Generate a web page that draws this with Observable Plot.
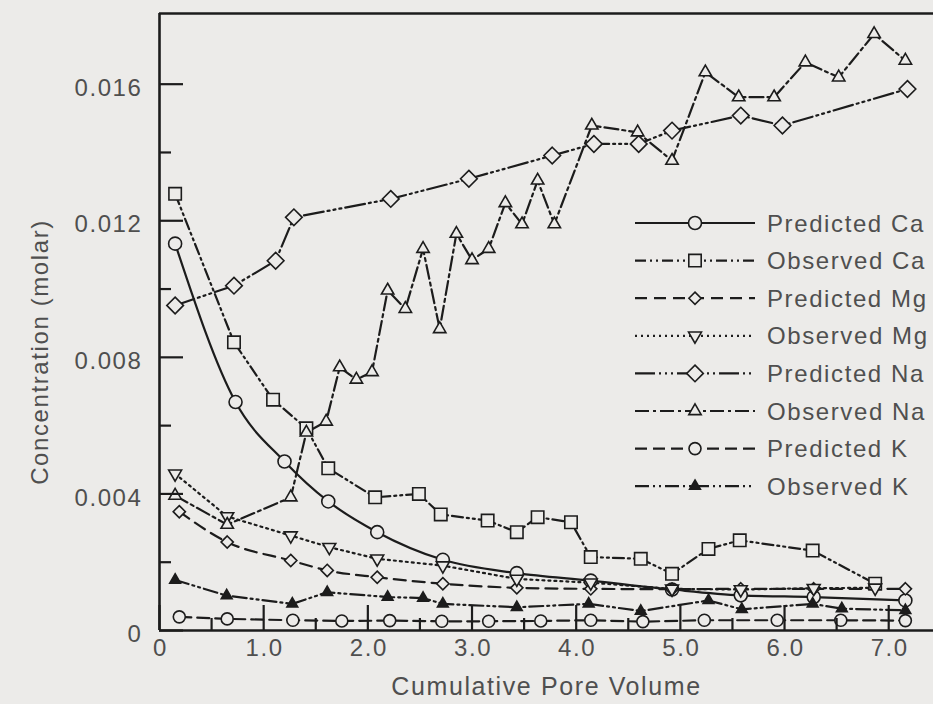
<!DOCTYPE html>
<html><head><meta charset="utf-8">
<script src="https://cdn.jsdelivr.net/npm/d3@7"></script>
<script src="https://cdn.jsdelivr.net/npm/@observablehq/plot@0.6"></script>
<style>
html,body{margin:0;padding:0;background:#ecebe9;}
#chart{position:relative;width:933px;height:704px;overflow:hidden;}
#chart svg{position:absolute;left:0;top:0;}
#chart text{letter-spacing:1.6px;}
</style></head><body><div id="chart"></div>
<script>
// ---- data ----
const predCaX = [0.15, 0.73, 1.20, 1.62, 2.09, 2.72, 3.43, 4.14, 4.92, 5.58, 6.28, 7.16];
const predCaY = [0.01133, 0.00669, 0.00495, 0.00378, 0.00288, 0.00207, 0.00168, 0.00146, 0.00120, 0.00103, 0.00098, 0.00088];

const obsCaX = [0.15, 0.715, 1.09, 1.41, 1.62, 2.07, 2.49, 2.70, 3.15, 3.43, 3.63, 3.95, 4.14, 4.62, 4.92, 5.27, 5.57, 6.27, 6.87];
const obsCaY = [0.01279, 0.00844, 0.00676, 0.00592, 0.00475, 0.00390, 0.00400, 0.00340, 0.00322, 0.00288, 0.00332, 0.00317, 0.00215, 0.00210, 0.00166, 0.00239, 0.00264, 0.00234, 0.00137];

const predMgX = [0.19, 0.65, 1.26, 1.61, 2.09, 2.72, 3.43, 4.14, 4.92, 5.58, 6.28, 7.16];
const predMgY = [0.00348, 0.00259, 0.00205, 0.00176, 0.00156, 0.00137, 0.00125, 0.00122, 0.00121, 0.00122, 0.00122, 0.00122];

const obsMgX = [0.15, 0.65, 1.26, 1.63, 2.09, 2.72, 3.43, 4.14, 4.92, 5.58, 6.28, 6.87];
const obsMgY = [0.00459, 0.00334, 0.00278, 0.00244, 0.00210, 0.00190, 0.00151, 0.00140, 0.00122, 0.00120, 0.00124, 0.00125];

const predNaX = [0.15, 0.715, 1.115, 1.29, 2.22, 2.97, 3.77, 4.17, 4.60, 4.92, 5.58, 5.98, 7.18];
const predNaY = [0.00952, 0.01010, 0.01083, 0.01210, 0.01264, 0.01323, 0.01391, 0.01425, 0.01425, 0.01464, 0.01508, 0.01479, 0.01586];

const obsNaX = [0.15, 0.65, 1.26, 1.41, 1.60, 1.73, 1.89, 2.04, 2.19, 2.36, 2.53, 2.69, 2.85, 3.00, 3.16, 3.32, 3.48, 3.63, 3.79, 4.15, 4.59, 4.92, 5.24, 5.56, 5.90, 6.20, 6.52, 6.86, 7.16];
const obsNaY = [0.00395, 0.00310, 0.00390, 0.00580, 0.00612, 0.00771, 0.00735, 0.00757, 0.00996, 0.00942, 0.01118, 0.00883, 0.01162, 0.01085, 0.01118, 0.01252, 0.01190, 0.01318, 0.01190, 0.01479, 0.01459, 0.01376, 0.01635, 0.01562, 0.01562, 0.01664, 0.01620, 0.01747, 0.01669];

const predKX = [0.19, 0.65, 1.28, 1.75, 2.21, 2.71, 3.16, 3.66, 4.14, 4.64, 5.23, 5.93, 6.54, 7.16];
const predKY = [0.00040, 0.00034, 0.00030, 0.00028, 0.00029, 0.00027, 0.00027, 0.00028, 0.00030, 0.00026, 0.00030, 0.00030, 0.00030, 0.00029];

const obsKX = [0.15, 0.645, 1.275, 1.61, 2.19, 2.53, 2.72, 3.43, 4.12, 4.62, 5.27, 5.59, 6.27, 6.55, 7.16];
const obsKY = [0.00148, 0.00102, 0.00078, 0.00112, 0.00098, 0.00095, 0.00078, 0.00068, 0.00078, 0.00057, 0.00088, 0.00062, 0.00078, 0.00064, 0.00059];

const seriesNames = ["Predicted Ca", "Observed Ca", "Predicted Mg", "Observed Mg", "Predicted Na", "Observed Na", "Predicted K", "Observed K"];

const xMajorTicks = [0, 1, 2, 3, 4, 5, 6, 7];
const xMinorTicks = [0.5, 1.5, 2.5, 3.5, 4.5, 5.5, 6.5];
const xTickLabels = ["0", "1.0", "2.0", "3.0", "4.0", "5.0", "6.0", "7.0"];
const yMajorTicks = [0, 0.004, 0.008, 0.012, 0.016];
const yMinorTicks = [0.002, 0.006, 0.010, 0.014];
const yTickLabels = ["0", "0.004", "0.008", "0.012", "0.016"];
const xTitle = "Cumulative Pore Volume";
const yTitle = "Concentration (molar)";

// ---- styles ----
const INK = "#1c1c1c", TEXT = "#4f4f4f", BG = "#ecebe9";
const FONT = "'Liberation Sans', Arial, sans-serif";
const styles = [
  {symbol: "circle",   r: 6.5, fill: BG,  dash: null,                     curve: "monotone-x", rotate: 0},
  {symbol: "square",   r: 7,   fill: BG,  dash: "11,4,2,4,2,4",           curve: "linear",     rotate: 0},
  {symbol: "diamond2", r: 5.5, fill: BG,  dash: "12,7",                   curve: "monotone-x", rotate: 0},
  {symbol: "triangle", r: 4.8, fill: BG,  dash: "2,4",                    curve: "linear",     rotate: 180},
  {symbol: "diamond2", r: 7.5, fill: BG,  dash: "20,4,2,4,2,4,2,4",       curve: "linear",     rotate: 0},
  {symbol: "triangle", r: 4.6, fill: BG,  dash: "14,4,3,4",               curve: "linear",     rotate: 0},
  {symbol: "circle",   r: 6,   fill: BG,  dash: "12,6",                   curve: "linear",     rotate: 0},
  {symbol: "triangle", r: 4,   fill: INK, dash: "14,4,2,4,2,4",           curve: "linear",     rotate: 0}
];
const seriesXs = [predCaX, obsCaX, predMgX, obsMgX, predNaX, obsNaX, predKX, obsKX];
const seriesYs = [predCaY, obsCaY, predMgY, obsMgY, predNaY, obsNaY, predKY, obsKY];

const W = 933, H = 704;
const mL = 159, mR = 0, mT = 13, mB = 74;
const xMax = 7.43, yMax = 0.01807;
const plotW = W - mL - mR, plotH = H - mT - mB;

const lineMarks = [], dotMarks = [];
seriesNames.forEach((name, k) => {
  const data = seriesXs[k].map((x, i) => ({x, y: seriesYs[k][i], name}));
  const s = styles[k];
  lineMarks.push(Plot.line(data, {x: "x", y: "y", stroke: INK, strokeWidth: 2.2,
    strokeDasharray: s.dash || undefined, curve: s.curve}));
  dotMarks.push(Plot.dot(data, {x: "x", y: "y", symbol: s.symbol, r: s.r, fill: s.fill,
    stroke: INK, strokeWidth: 1.6, rotate: s.rotate}));
});

const chart = Plot.plot({
  width: W, height: H,
  marginLeft: mL, marginRight: mR, marginTop: mT, marginBottom: mB,
  style: {background: "transparent", fontFamily: FONT, fontSize: "24px", color: TEXT, overflow: "visible"},
  x: {domain: [0, xMax]},
  y: {domain: [0, yMax]},
  marks: [
    ...lineMarks,
    ...dotMarks,
    Plot.tickY(yMajorTicks, {y: d => d, insetRight: plotW - 24, stroke: INK, strokeWidth: 2.2}),
    Plot.tickY(yMinorTicks, {y: d => d, insetRight: plotW - 12, stroke: INK, strokeWidth: 2.2}),
    Plot.tickX(xMajorTicks, {x: d => d, insetTop: plotH - 25, stroke: INK, strokeWidth: 2.2}),
    Plot.tickX(xMinorTicks, {x: d => d, insetTop: plotH - 12, stroke: INK, strokeWidth: 2.2}),
    Plot.ruleX([0], {stroke: INK, strokeWidth: 2.6}),
    Plot.ruleY([0, yMax], {stroke: INK, strokeWidth: 2.6}),
    Plot.axisX(xMajorTicks, {tickSize: 0, tickPadding: 8, fill: TEXT, fontSize: 24, label: null, dx: 1,
      tickFormat: d => xTickLabels[xMajorTicks.indexOf(d)]}),
    Plot.axisY(yMajorTicks, {tickSize: 0, tickPadding: 17, fill: TEXT, fontSize: 24, label: null, dy: 4,
      tickFormat: d => yTickLabels[yMajorTicks.indexOf(d)]}),
    Plot.text([xTitle], {frameAnchor: "bottom", dy: 64, text: d => d, fill: TEXT, fontSize: 25, textAnchor: "middle"}),
    Plot.text([yTitle], {frameAnchor: "left", dx: -119, dy: 30, rotate: -90, text: d => d, fill: TEXT, fontSize: 24, textAnchor: "middle"})
  ]
});
document.getElementById("chart").appendChild(chart);

// ---- legend overlay ----
const leg = d3.select("#chart").append("svg").attr("width", W).attr("height", H);
const rowY0 = 223, rowStep = 37.6, lx1 = 635, lx2 = 755, mx = 695, tx = 767;
const symMap = {circle: d3.symbolCircle, square: d3.symbolSquare, diamond2: d3.symbolDiamond2, triangle: d3.symbolTriangle};
seriesNames.forEach((name, k) => {
  const s = styles[k];
  const y = rowY0 + k * rowStep;
  leg.append("line").attr("x1", lx1).attr("x2", lx2).attr("y1", y).attr("y2", y)
    .attr("stroke", INK).attr("stroke-width", 2.2).attr("stroke-dasharray", s.dash);
  leg.append("path").attr("d", d3.symbol(symMap[s.symbol], Math.PI * s.r * s.r)())
    .attr("transform", `translate(${mx},${y}) rotate(${s.rotate})`)
    .attr("fill", s.fill).attr("stroke", INK).attr("stroke-width", 1.6);
  leg.append("text").attr("x", tx).attr("y", y).attr("dy", "0.36em")
    .attr("font-family", FONT).attr("font-size", 24).attr("fill", TEXT).text(name);
});
</script>
</body></html>
